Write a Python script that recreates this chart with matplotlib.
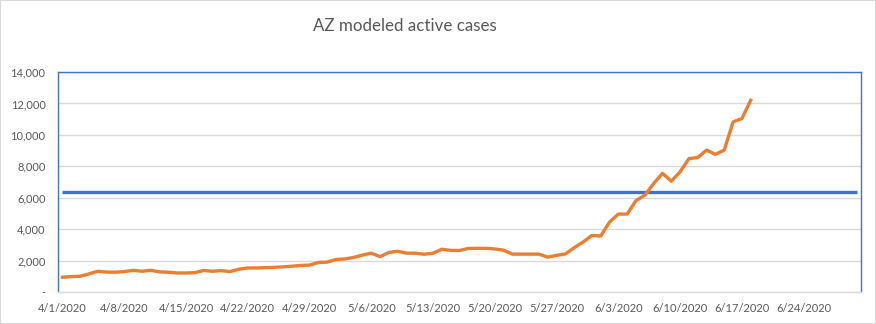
import numpy as np
import pandas as pd
from matplotlib import pyplot as plt
from matplotlib.patches import Rectangle

# days on the category axis: 4/1/2020 .. 6/30/2020
days = pd.date_range("2020-04-01", "2020-06-30", freq="D")
day_labels = [f"{d.month}/{d.day}/{d.year}" for d in days]

# modeled active cases, one value per day from 4/1
active = [940, 980, 1000, 1150, 1320, 1270, 1260, 1300, 1380, 1320,
          1380, 1280, 1260, 1210, 1210, 1230, 1370, 1320, 1360, 1300,
          1450, 1530, 1530, 1550, 1570, 1600, 1640, 1690, 1710, 1880,
          1900, 2070, 2100, 2200, 2350, 2470, 2250, 2520, 2590, 2470,
          2470, 2400, 2470, 2720, 2650, 2640, 2770, 2780, 2780, 2740,
          2660, 2410, 2410, 2410, 2410, 2220, 2330, 2420, 2820, 3180,
          3600, 3560, 4450, 4960, 4960, 5820, 6160, 6900, 7550, 7050,
          7650, 8490, 8560, 9030, 8760, 9030, 10820, 11040, 12200]

# flat reference level
level = 6350

y_ticks = [0, 2000, 4000, 6000, 8000, 10000, 12000, 14000]

grey = "#595959"
plt.rcParams["font.family"] = ["Lato", "DejaVu Sans"]

fig = plt.figure(figsize=(8.76, 3.24), dpi=100)
ax = fig.add_axes([58 / 876, 1 - 292 / 324, 803 / 876, 220 / 324])

x_all = np.arange(len(days))
ax.plot(x_all, [level] * len(days), color="#4472C4", lw=2.4, solid_capstyle="butt", zorder=3)
ax.plot(x_all[:len(active)], active, color="#ED7D31", lw=2.4, solid_joinstyle="round", zorder=4)

ax.set_xlim(-0.5, len(days) - 0.5)
ax.set_ylim(0, 14000)
ax.set_yticks(y_ticks)
ax.set_yticklabels(["-" if v == 0 else f"{v:,}" for v in y_ticks])
ax.set_xticks(x_all[::7])
ax.set_xticklabels(day_labels[::7])
ax.tick_params(length=0, labelsize=8, labelcolor=grey)
ax.tick_params(axis="y", pad=9)
ax.tick_params(axis="x", pad=8)

ax.grid(axis="y", color="#D9D9D9", lw=1)
ax.set_axisbelow(True)
for side in ["left", "top", "right"]:
    ax.spines[side].set_color("#4472C4")
    ax.spines[side].set_linewidth(1)
ax.spines["bottom"].set_color("#D9D9D9")
ax.spines["bottom"].set_linewidth(1)

fig.text(405 / 876, 1 - 26 / 324, "AZ modeled active cases", ha="center", va="center",
         fontsize=12.2, color=grey)

fig.patches.append(Rectangle((0, 0), 1, 1, transform=fig.transFigure, fill=False,
                             edgecolor="#D9D9D9", lw=1.5))

fig.savefig("out.png", dpi=100)
